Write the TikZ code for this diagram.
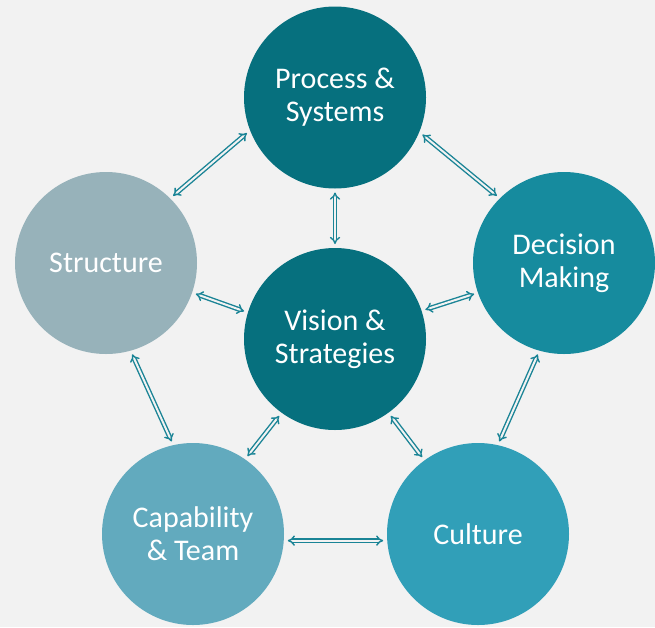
\documentclass[tikz,border=0pt]{standalone}
\usepackage{fontspec}
\setmainfont{Carlito}
\usepackage{xcolor}
\usetikzlibrary{arrows.meta}

\definecolor{bggray}{HTML}{F2F2F2}
\definecolor{tealdark}{HTML}{06707E}
\definecolor{tealmid}{HTML}{168B9E}
\definecolor{teallight}{HTML}{319FB8}
\definecolor{bluepale}{HTML}{62AABE}
\definecolor{graysteel}{HTML}{97B2BA}
\definecolor{arrowteal}{HTML}{1A8496}

\begin{document}
\begin{tikzpicture}[x=1pt, y=-1pt,
  disc/.style={circle, minimum size=182pt, inner sep=0pt, outer sep=4pt,
               text=white, align=center, font=\fontsize{30}{33}\selectfont},
  arr/.style={{Implies}-{Implies}, double, double distance=2pt,
              line width=1.4pt, draw=arrowteal, double=bggray}
]
  \fill[bggray] (0,0) rectangle (655,627);
  \useasboundingbox (0,0) rectangle (655,627);

  % Nodes
  \node[disc, fill=tealdark]  (proc)   at (335,97.5) {Process \&\\Systems};
  \node[disc, fill=graysteel] (struct) at (106,263)  {Structure};
  \node[disc, fill=tealmid]   (dec)    at (564,263)  {Decision\\Making};
  \node[disc, fill=tealdark]  (vis)    at (335,339)  {Vision \&\\Strategies};
  \node[disc, fill=bluepale]  (cap)    at (193,534)  {Capability\\\& Team};
  \node[disc, fill=teallight] (cult)   at (478,534)  {Culture};

  % Paths
  \draw[arr] (proc.202) -- (struct.45);
  \draw[arr] (proc.337) -- (dec.135);
  \draw[arr] (proc.270) -- (vis.90);
  \draw[arr] (struct.341) -- (vis.163);
  \draw[arr] (dec.199) -- (vis.18);
  \draw[arr] (struct.286) -- (cap.103);
  \draw[arr] (dec.254) -- (cult.77);
  \draw[arr] (vis.234) -- (cap.55);
  \draw[arr] (vis.306) -- (cult.126);
  \draw[arr] (cap.356) -- (cult.184);
\end{tikzpicture}
\end{document}
